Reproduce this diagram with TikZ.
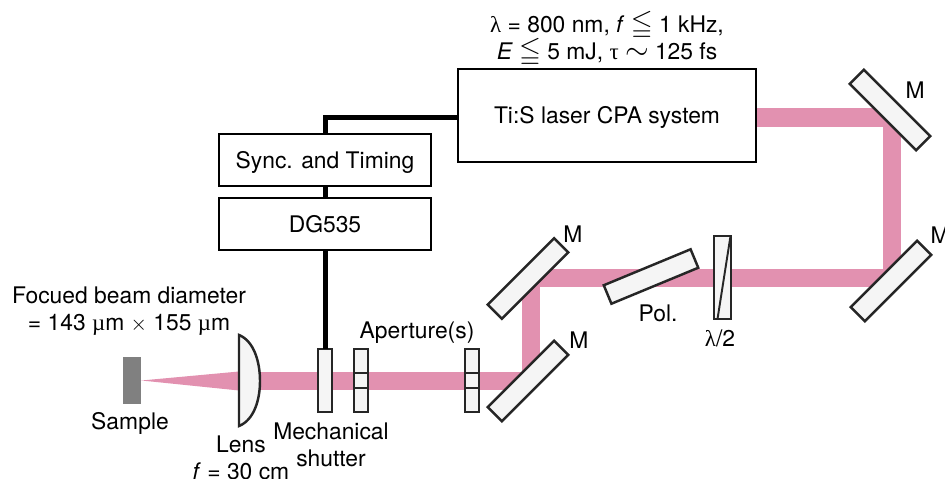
\documentclass[tikz,border=0pt]{standalone}
\usepackage{amssymb}
\usepackage{fontspec}
\setmainfont{TeX Gyre Heros}
\newfontfamily\greekfont{Liberation Serif}
\newcommand{\bigleqq}{\smash{\fontsize{16}{15.3}\selectfont$\leqq$}}
\newcommand{\bigsim}{\smash{\fontsize{17}{15.3}\selectfont$\sim$}}
\usetikzlibrary{positioning,backgrounds}

\begin{document}
\begin{tikzpicture}[x=0.02cm, y=-0.02cm, node distance=0.24cm, font=\fontsize{13}{15.3}\selectfont,
        block/.style={rectangle, draw, line width=1.4pt, outer sep=0pt, inner sep=0pt, text depth=0pt, minimum width=4.24cm, minimum height=1.04cm},
        optic/.style={rectangle, draw=black!85, line width=1.4pt, fill=black!4, outer sep=0pt, inner sep=0pt},
        mirror/.style={optic, minimum width=1.88cm, minimum height=0.4cm},
        slab/.style={optic, minimum width=0.27cm, minimum height=1.26cm},
        aperture/.style={slab, path picture={
            \draw[line width=1.4pt, draw=black!85] ([yshift=0.15cm]path picture bounding box.center -| path picture bounding box.west) -- ([yshift=0.15cm]path picture bounding box.center -| path picture bounding box.east);
            \draw[line width=1.4pt, draw=black!85] ([yshift=-0.15cm]path picture bounding box.center -| path picture bounding box.west) -- ([yshift=-0.15cm]path picture bounding box.center -| path picture bounding box.east);}},
        beam/.style={draw=beamcol, line width=0.37cm, line join=bevel},
        wire/.style={draw=black, line width=0.1cm},
        label/.style={inner sep=0pt, align=center}]
        \definecolor{beamcol}{HTML}{E291B0}
        \useasboundingbox (0,0) rectangle (945,479);

        \node[block, minimum width=5.96cm, minimum height=1.86cm] (laser) at (607,115.5) {};
        \node[label] (laserlabel) at (607,117.5) {Ti:S laser CPA system};
        \node[block] (sync) at (325,160) {Sync. and Timing};
        \node[block, below=of sync] (dg) {DG535};

        \node[rectangle, fill=black!50, minimum width=0.36cm, minimum height=0.94cm, inner sep=0pt] (sample) at (132,380.5) {};
        \node[slab] (shutter) at (325,380.5) {};
        \node[aperture] (apA) at (361,380.5) {};
        \node[aperture] (apB) at (472,380.5) {};

        \node[mirror, rotate=45] (mirrorA) at (528,381) {};
        \node[mirror, rotate=45] (mirrorB) at (528,278.5) {};
        \node[mirror, rotate=45] (mirrorC) at (891,281) {};
        \node[mirror, rotate=-45] (mirrorD) at (890,110) {};
        \node[mirror, rotate=22.5] (pol) at (651,276.5) {};
        \node[optic, minimum width=0.34cm, minimum height=1.66cm, path picture={
            \draw[line width=1.1pt, draw=black!85] ([xshift=0.16cm]path picture bounding box.north) -- ([xshift=-0.1cm]path picture bounding box.south);}] (plate) at (722.5,277.5) {};

        \coordinate (lensT) at (239,335);
        \coordinate (lensB) at (239,426);
        \coordinate (lensC) at (260,381);
        \coordinate (turnD) at (892,117.5);
        \coordinate (turnC) at (892,278);
        \coordinate (turnB) at (531,278);
        \coordinate (turnA) at (531,381);

        \begin{scope}[on background layer]
            \draw[beam] (laser.east |- turnD) -- (turnD) -- (turnC) -- (turnB) -- (turnA) -- (lensC);
            \fill[beamcol] (sample.east) -- (239,371.5) -- (239,390.5) -- cycle;
        \end{scope}

        \draw[optic] (lensT) .. controls (254,341) and (260,362) .. (lensC) .. controls (260,400) and (254,420) .. (lensB) -- cycle;

        \draw[wire] (laser.west |- turnD) -| (sync.north);
        \draw[wire] (sync) -- (dg);
        \draw[wire] (dg) -- (shutter.north);

        \node[label] (beamtext) at (129,311) {Focued beam diameter\\= 143 {\greekfont µ}m $\times$ 155 {\greekfont µ}m};
        \node[label] (sampletext) at (130,423) {Sample};
        \node[label] (lenstext) at (241,457.5) {Lens\\\textit{f} = 30 cm};
        \node[label] (shuttertext) at (331,444.5) {Mechanical\\shutter};
        \node[label] (aptext) at (417,333) {Aperture(s)};
        \node[label] (specs) at (607,39) {{\greekfont λ} = 800 nm, \textit{f} \bigleqq{} 1 kHz,\\\textit{E} \bigleqq{} 5 mJ, {\greekfont τ} \bigsim{} 125 fs};
        \node[label] (polname) at (658,313) {Pol.};
        \node[label] (platename) at (720,338) {{\greekfont λ}/2};
        \node[label] (mnameA) at (579,340) {M};
        \node[label] (mnameB) at (573,234) {M};
        \node[label] (mnameC) at (940,235) {M};
        \node[label] (mnameD) at (915,90) {M};

    \end{tikzpicture}
\end{document}
